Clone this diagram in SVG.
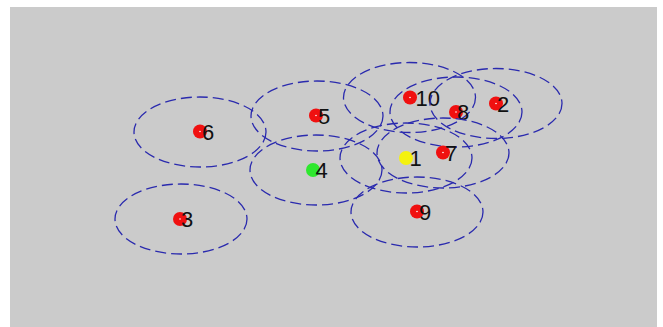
<svg xmlns="http://www.w3.org/2000/svg" width="663" height="327" viewBox="0 0 663 327">
  <style>
    .range { fill: none; stroke: #2a2aae; stroke-width: 1.3; stroke-dasharray: 11 5; }
    .red { fill: #f01010; }
    .yellow { fill: #f4f20e; }
    .green { fill: #2ee82e; }
    .hl { fill: #ffffff; }
    .lbl { font-family: "Liberation Sans", Arial, sans-serif; font-size: 22px; fill: #111111; }
  </style>
  <rect x="0" y="0" width="663" height="327" fill="#ffffff"/>
  <rect x="10" y="7" width="647" height="320" fill="#cbcbcb"/>

  <g id="node6">
    <ellipse class="range" cx="200" cy="132" rx="66" ry="35"/>
    <circle class="red" cx="200" cy="131.5" r="7"/>
    <circle class="hl" cx="200" cy="131.5" r="0.8"/>
    <text class="lbl" x="202" y="139.5">6</text>
  </g>
  <g id="node3">
    <ellipse class="range" cx="181" cy="219" rx="66" ry="35"/>
    <circle class="red" cx="180" cy="219" r="7"/>
    <circle class="hl" cx="180" cy="219" r="0.8"/>
    <text class="lbl" x="181" y="227">3</text>
  </g>
  <g id="node5">
    <ellipse class="range" cx="317" cy="116" rx="66" ry="35"/>
    <circle class="red" cx="316" cy="115.5" r="7"/>
    <circle class="hl" cx="316" cy="115.5" r="0.8"/>
    <text class="lbl" x="318" y="123.5">5</text>
  </g>
  <g id="node4">
    <ellipse class="range" cx="316" cy="170" rx="66" ry="35"/>
    <circle class="green" cx="313" cy="170" r="7"/>
    <text class="lbl" x="315.5" y="178">4</text>
  </g>
  <g id="node10">
    <ellipse class="range" cx="409.5" cy="97.5" rx="66" ry="35"/>
    <circle class="red" cx="410" cy="97.5" r="7"/>
    <circle class="hl" cx="410" cy="97.5" r="0.8"/>
    <text class="lbl" x="415.5" y="105.5">10</text>
  </g>
  <g id="node8">
    <ellipse class="range" cx="456" cy="112" rx="66" ry="35"/>
    <circle class="red" cx="456" cy="112" r="7"/>
    <circle class="hl" cx="456" cy="112" r="0.8"/>
    <text class="lbl" x="457" y="120">8</text>
  </g>
  <g id="node2">
    <ellipse class="range" cx="496" cy="103.5" rx="66" ry="35"/>
    <circle class="red" cx="496" cy="103.5" r="7"/>
    <circle class="hl" cx="496" cy="103.5" r="0.8"/>
    <text class="lbl" x="497" y="111.5">2</text>
  </g>
  <g id="node7">
    <ellipse class="range" cx="443" cy="153" rx="66" ry="35"/>
    <circle class="red" cx="443" cy="152.5" r="7"/>
    <circle class="hl" cx="443" cy="152.5" r="0.8"/>
    <text class="lbl" x="445" y="160.5">7</text>
  </g>
  <g id="node1">
    <ellipse class="range" cx="406" cy="158" rx="66" ry="35"/>
    <circle class="yellow" cx="406" cy="158" r="7"/>
    <text class="lbl" x="409.5" y="166">1</text>
  </g>
  <g id="node9">
    <ellipse class="range" cx="417" cy="212" rx="66" ry="35"/>
    <circle class="red" cx="417" cy="211.5" r="7"/>
    <circle class="hl" cx="417" cy="211.5" r="0.8"/>
    <text class="lbl" x="419" y="219.5">9</text>
  </g>
  <g id="connectors"/>
</svg>
